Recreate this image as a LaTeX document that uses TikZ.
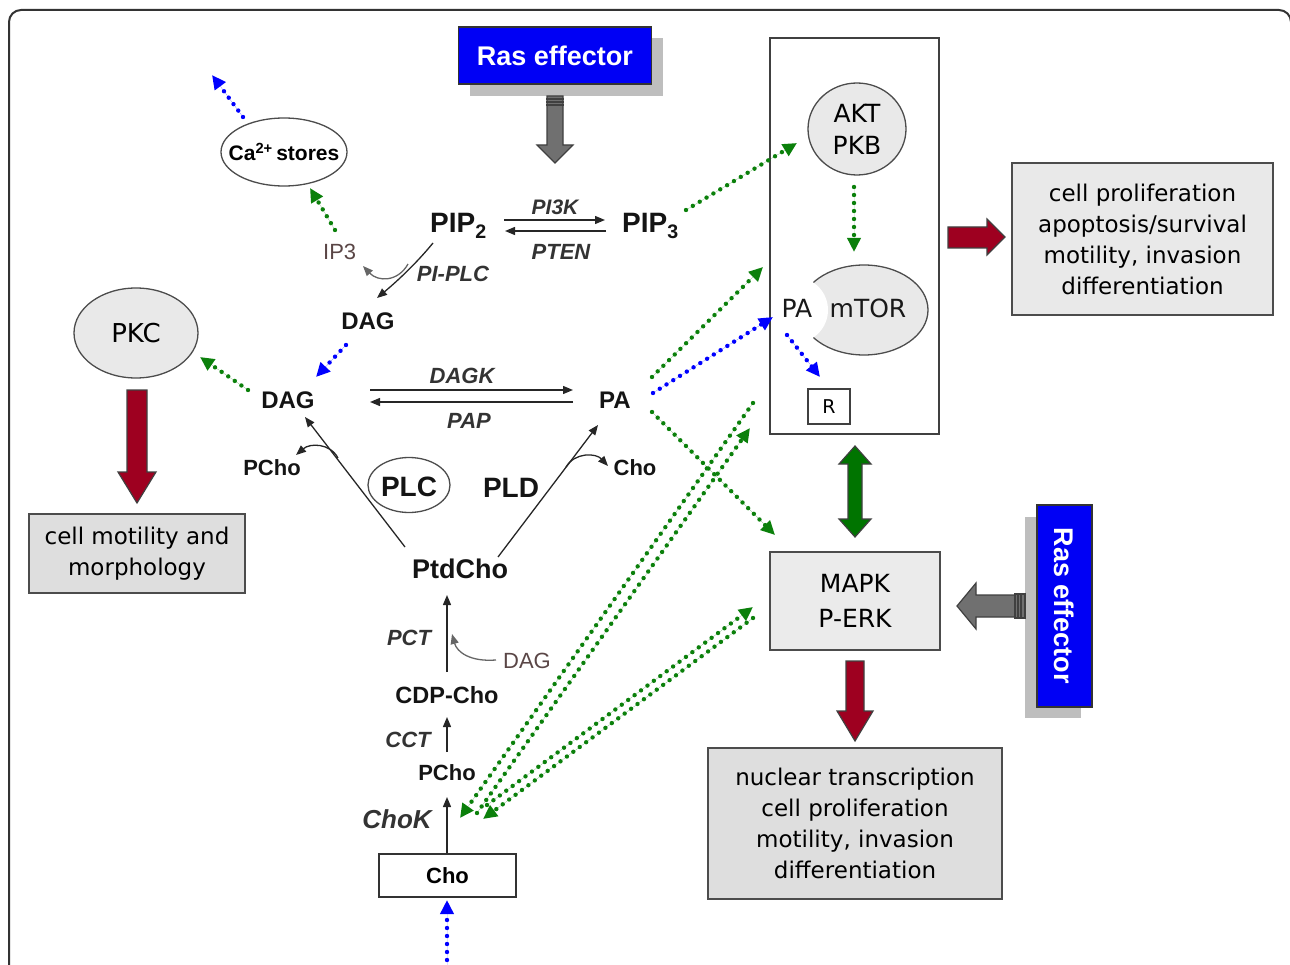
\documentclass[tikz,border=0pt]{standalone}
\usepackage{fontspec}
\setmainfont{Liberation Sans}
\newfontfamily\dvs{DejaVu Sans}
\usetikzlibrary{arrows.meta,shapes.geometric}
\definecolor{dgreen}{HTML}{0B800B}
\definecolor{bgreen}{HTML}{007400}
\definecolor{dred}{HTML}{9E0020}
\definecolor{lgray}{HTML}{E9E9E9}
\definecolor{mgray}{HTML}{DEDEDE}
\definecolor{rasblue}{HTML}{0000F5}
\definecolor{shadowgray}{HTML}{BEBEBE}
\definecolor{txtgray}{HTML}{5A4646}
\definecolor{arrgray}{HTML}{707070}
\tikzset{
  bl/.style={inner sep=0pt, anchor=base, text=black!92, font=\fontsize{#1}{#1}\selectfont\bfseries},
  en/.style={inner sep=0pt, anchor=base, text=black!80, font=\fontsize{#1}{#1}\selectfont\bfseries\itshape},
  rg/.style={inner sep=0pt, anchor=base, text=txtgray, font=\fontsize{#1}{#1}\selectfont},
  dv/.style={inner sep=0pt, anchor=base, text=black!90, font=\dvs\fontsize{#1}{#1}\selectfont},
  boxt/.style={draw=black!70, line width=1.3pt, fill=#1, inner sep=0pt, align=center, font=\dvs\fontsize{23}{31}\selectfont},
  tarr/.style={line width=1.3pt, draw=black!85, -{Triangle[length=10pt,width=8pt]}},
  garr/.style={line width=1.3pt, draw=black!60, -{Triangle[length=10pt,width=8pt]}},
  dotg/.style={draw=dgreen, fill=dgreen, line width=4.4pt, dash pattern=on 0pt off 8pt, line cap=round, -{Triangle[length=14pt,width=13pt]}},
  dotb/.style={draw=blue, fill=blue, line width=4.4pt, dash pattern=on 0pt off 8pt, line cap=round, -{Triangle[length=14pt,width=13pt]}},
  blk/.style={line width=1.2pt, draw=black!75, line join=miter},
  oval/.style={ellipse, draw=black!70, line width=1.3pt, inner sep=0pt}
}
\begin{document}
\begin{tikzpicture}[x=1pt,y=-1pt]
\useasboundingbox (0,0) rectangle (1290,965);
\begin{scope}
\clip (0,0) rectangle (1290,965);
\draw[line width=2pt, draw=black!80, rounded corners=12pt] (9,10) rectangle (1291,1010);
\end{scope}

% ---------- Ras effector (top)
\fill[shadowgray] (470,38) rectangle (663,96);
\node[draw=black!80, line width=1.5pt, fill=rasblue, minimum width=193pt, minimum height=57pt, inner sep=0pt, text=white, font=\fontsize{27}{27}\selectfont\bfseries] (ras1) at (555,55.5) {Ras effector};
\draw[blk, fill=arrgray] (547,96) -- (563,96) -- (563,145) -- (573,145) -- (555,163) -- (537,145) -- (547,145) -- cycle;
\draw[blk] (546,99) -- (564,99) (546,102) -- (564,102) (546,105) -- (564,105);

% ---------- PIP2 / PIP3
\node[bl=28, anchor=base west] (pip2) at (430,233) {PIP\textsubscript{2}};
\node[bl=28, anchor=base west] (pip3) at (622,233) {PIP\textsubscript{3}};
\node[en=21] (pi3k) at (555,215) {PI3K};
\node[en=22] (pten) at (561,260) {PTEN};
\node[en=22] (piplc) at (453,282) {PI-PLC};
\coordinate (k1a) at (504,220); \coordinate (k1b) at (605,220);
\coordinate (k2a) at (606,231); \coordinate (k2b) at (505,231);
\draw[tarr] (k1a) -- (k1b);
\draw[tarr] (k2a) -- (k2b);

% IP3 and Ca stores
\node[rg=22, anchor=base west] (ip3) at (323,260) {IP3};
\node[ellipse, draw=black!70, line width=1.3pt, minimum width=126pt, minimum height=68pt, inner sep=0pt] (ca) at (284,152) {};
\node[inner sep=0pt, font=\fontsize{21}{21}\selectfont\bfseries] (catext) at (ca.center) {Ca\textsuperscript{2+}\,stores};
\coordinate (caout) at (212,75);
\coordinate (cas) at (243,117);
\draw[dotb] (cas) -- (caout);
\coordinate (ip3s) at (335,230); \coordinate (cain) at (310,188);
\draw[dotg] (ip3s) -- (cain);

% PIP2 -> DAG (PI-PLC)
\node[bl=24] (dagu) at (368,330) {DAG};
\coordinate (pl1) at (433,243); \coordinate (pl2) at (377,298);
\draw[tarr] (pl1) .. controls (415,265) and (395,283) .. (pl2);
\coordinate (pl3) at (408,264); \coordinate (pl4) at (363,266);
\draw[garr] (pl3) .. controls (398,282) and (378,282) .. (pl4);

% ---------- DAG / PA
\node[bl=24] (dagl) at (288,408) {DAG};
\node[bl=24] (pa) at (615,408) {PA};
\node[en=22] (dagk) at (462,384) {DAGK};
\node[en=22] (pap) at (469,428) {PAP};
\coordinate (d1a) at (370,390); \coordinate (d1b) at (573,390);
\coordinate (d2a) at (573,402); \coordinate (d2b) at (370,402);
\draw[tarr] (d1a) -- (d1b);
\draw[tarr] (d2a) -- (d2b);
\coordinate (du1) at (346,345); \coordinate (du2) at (316,377);
\draw[dotb] (du1) -- (du2);

% PKC
\node[oval, fill=lgray, minimum width=124pt, minimum height=90pt, font=\dvs\fontsize{26}{26}\selectfont] (pkc) at (136,333) {PKC};
\coordinate (dl1) at (248,390); \coordinate (dl2) at (200,357);
\draw[dotg] (dl1) -- (dl2);
\draw[blk, fill=dred] (127,390) -- (147,390) -- (147,472) -- (156,472) -- (137,503) -- (118,472) -- (127,472) -- cycle;
\node[boxt=mgray, minimum width=216pt, minimum height=79pt] (motil) at (137,553.5) {cell motility and\\morphology};

% ---------- PtdCho / PLC / PLD
\node[bl=22] (pcho1) at (272,475) {PCho};
\node[bl=22] (cho1) at (635,475) {Cho};
\node[ellipse, draw=black!70, line width=1.3pt, minimum width=82pt, minimum height=55pt, inner sep=0pt] (plc) at (409,485) {};
\node[bl=28] (plctext) at (409,496) {PLC};
\node[bl=28] (pld) at (511,497) {PLD};
\node[bl=27] (ptdcho) at (460,578) {PtdCho};
\coordinate (p1a) at (405,547); \coordinate (p1b) at (305,417);
\draw[tarr] (p1a) -- (p1b);
\coordinate (p2a) at (498,557); \coordinate (p2b) at (598,425);
\draw[tarr] (p2a) -- (p2b);
\coordinate (pc1) at (338,458); \coordinate (pc2) at (296,455);
\draw[tarr] (pc1) .. controls (330,443) and (310,443) .. (pc2);
\coordinate (ch1) at (566,467); \coordinate (ch2) at (608,466);
\draw[tarr] (ch1) .. controls (575,452) and (596,453) .. (ch2);

% ---------- Kennedy pathway
\node[en=22] (pct) at (409,645) {PCT};
\node[rg=22] (dag3) at (527,668) {DAG};
\node[bl=23.5] (cdpcho) at (447,703) {CDP-Cho};
\node[en=22] (cct) at (408,747) {CCT};
\node[bl=22] (pcho2) at (447,780) {PCho};
\node[en=26] (chok) at (397,828) {ChoK};
\node[draw=black!80, line width=1.3pt, minimum width=137pt, minimum height=43pt, inner sep=0pt, font=\fontsize{22}{22}\selectfont\bfseries] (chobox) at (447.5,875.5) {Cho};
\coordinate (c1a) at (447,672); \coordinate (c1b) at (447,595);
\draw[tarr] (c1a) -- (c1b);
\coordinate (dg1) at (496,660); \coordinate (dg2) at (452,634);
\draw[garr] (dg1) .. controls (470,662) and (457,652) .. (dg2);
\coordinate (c2a) at (447,752); \coordinate (c2b) at (447,717);
\draw[tarr] (c2a) -- (c2b);
\coordinate (c3a) at (447,853); \coordinate (c3b) at (447,797);
\draw[tarr] (c3a) -- (c3b);
\coordinate (chin) at (447,968); \coordinate (chtop) at (447,900);
\draw[dotb] (chin) -- (chtop);

% ---------- right column: AKT / mTOR box
\node[draw=black!75, line width=1.3pt, minimum width=169pt, minimum height=396pt, inner sep=0pt] (mainbox) at (854.5,236) {};
\node[oval, fill=lgray, minimum width=98pt, minimum height=92pt, align=center, font=\dvs\fontsize{25}{32}\selectfont] (akt) at (857,129) {AKT\\PKB};
\node[oval, fill=lgray, minimum width=128pt, minimum height=90pt] (mtor) at (864,310) {};
\begin{scope}
\clip (864,310) ellipse [x radius=66pt, y radius=47pt];
\fill[white] (795,310) circle [radius=33pt];
\end{scope}
\node[dv=25] (patext) at (797,318) {PA};
\node[dv=25] (mtortext) at (868,318) {mTOR};
\node[draw=black!75, line width=1.2pt, minimum width=42pt, minimum height=35pt, inner sep=0pt, font=\dvs\fontsize{19}{19}\selectfont] (rbox) at (829,406.5) {R};
\coordinate (ak1) at (854,187); \coordinate (ak2) at (854,252);
\draw[dotg] (ak1) -- (ak2);
\coordinate (pr1) at (787,335); \coordinate (pr2) at (820,377);
\draw[dotb] (pr1) -- (pr2);
\coordinate (pp1) at (686,210); \coordinate (pp2) at (797,143);
\draw[dotg] (pp1) -- (pp2);

% PA dotted outputs
\coordinate (pa1) at (652,377); \coordinate (pa1e) at (763,267);
\draw[dotg] (pa1) -- (pa1e);
\coordinate (pa2) at (653,393); \coordinate (pa2e) at (773,317);
\draw[dotb] (pa2) -- (pa2e);
\coordinate (pa3) at (652,412); \coordinate (pa3e) at (775,535);
\draw[dotg] (pa3) -- (pa3e);

% Cho <-> boxes (double dotted)
\coordinate (l1a) at (753,403); \coordinate (l1b) at (460,818);
\draw[dotg] (l1a) -- (l1b);
\coordinate (l1c) at (477,813); \coordinate (l1d) at (750,428);
\draw[dotg] (l1c) -- (l1d);
\coordinate (l2a) at (487,805); \coordinate (l2b) at (753,607);
\draw[dotg] (l2a) -- (l2b);
\coordinate (l2c) at (753,618); \coordinate (l2d) at (483,819);
\draw[dotg] (l2c) -- (l2d);

% red arrow to proliferation box
\draw[blk, fill=dred] (948,227) -- (987,227) -- (987,219) -- (1005,237) -- (987,255) -- (987,248) -- (948,248) -- cycle;
\node[boxt=lgray, minimum width=261pt, minimum height=152pt] (prolif) at (1142.5,239) {cell proliferation\\apoptosis/survival\\motility, invasion\\differentiation};

% green double arrow
\draw[blk, fill=bgreen] (855,446) -- (871,464) -- (862,464) -- (862,519) -- (871,519) -- (855,537) -- (839,519) -- (848,519) -- (848,464) -- (839,464) -- cycle;

% MAPK
\node[draw=black!70, line width=1.3pt, fill=lgray!90!white, minimum width=170pt, minimum height=98pt, inner sep=0pt, align=center, font=\dvs\fontsize{25}{35}\selectfont] (mapk) at (855,601) {MAPK\\P-ERK};
\draw[blk, fill=dred] (846,661) -- (864,661) -- (864,711) -- (873,711) -- (855,741) -- (837,711) -- (846,711) -- cycle;
\node[boxt=mgray, minimum width=294pt, minimum height=151pt] (nuclear) at (855,823.5) {nuclear transcription\\cell proliferation\\motility, invasion\\differentiation};

% Ras effector (right)
\fill[shadowgray] (1025,517) rectangle (1081,718);
\node[draw=black!80, line width=1.5pt, fill=rasblue, minimum width=55pt, minimum height=202pt, inner sep=0pt] (ras2) at (1064.5,606) {};
\node[rotate=-90, inner sep=0pt, text=white, font=\fontsize{27}{27}\selectfont\bfseries] (ras2t) at (ras2.center) {Ras effector};
\draw[blk, fill=arrgray] (957,606) -- (976,583) -- (976,595) -- (1015,595) -- (1015,617) -- (976,617) -- (976,629) -- cycle;
\draw[blk, fill=arrgray] (1015,594) rectangle (1025,618);
\draw[blk] (1018,594) -- (1018,618) (1021,594) -- (1021,618);
\end{tikzpicture}
\end{document}
